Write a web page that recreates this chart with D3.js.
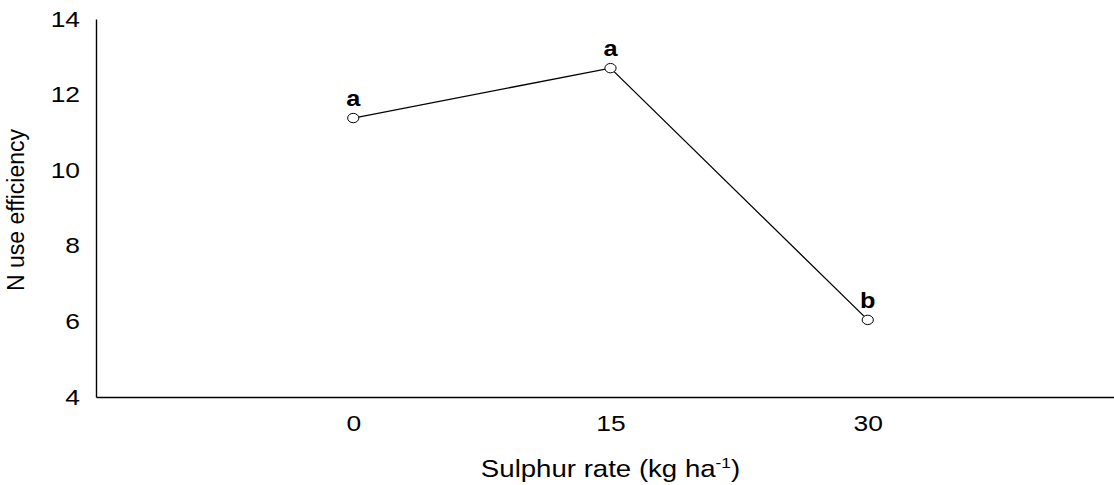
<!DOCTYPE html>
<html>
<head>
<meta charset="utf-8">
<script src="https://cdn.jsdelivr.net/npm/d3@7"></script>
<style>
  body { margin: 0; background: #fff; }
  svg { font-family: "Liberation Sans", Arial, sans-serif; }
</style>
</head>
<body>
<script>
// data
var rates = [0, 15, 30];
var efficiency = [11.38, 12.70, 6.04];
var letters = ["a", "a", "b"];
var yTicks = [4, 6, 8, 10, 12, 14];

// set the dimensions and margins of the graph
var margin = {top: 19, right: 0, bottom: 88, left: 96},
    width = 1114 - margin.left - margin.right,
    height = 485 - margin.top - margin.bottom;

// text in the original is drawn a little wider than normal
var stretch = 1.2;

// set the ranges
var x = d3.scaleLinear().domain([-15, 45]).range([0, 1029]);
var y = d3.scaleLinear().domain([4, 14]).range([height, 0]);

var svg = d3.select('body')
            .append('svg')
            .attr('width', 1114)
            .attr('height', 485)
            .append("g")
            .attr("transform", "translate(" + margin.left + "," + margin.top + ")");

// x axis
var xAxis = svg.append("g")
    .attr("transform", "translate(0," + height + ")")
    .call(d3.axisBottom(x).tickValues(rates).tickSize(0).tickPadding(18));
xAxis.select(".domain").attr("stroke", "#000").attr("stroke-width", 1.4);
xAxis.selectAll("text")
    .style("font-size", "22px")
    .style("font-family", "'Liberation Sans', Arial, sans-serif")
    .attr("fill", "#000")
    .attr("transform", "scale(" + stretch + ",1)");

// y axis
var yAxis = svg.append("g")
    .call(d3.axisLeft(y).tickValues(yTicks).tickSize(0));
yAxis.select(".domain").attr("stroke", "#000").attr("stroke-width", 1.4);
yAxis.selectAll("text")
    .style("font-size", "22px")
    .style("font-family", "'Liberation Sans', Arial, sans-serif")
    .attr("fill", "#000")
    .attr("x", -16 / stretch)
    .attr("transform", "scale(" + stretch + ",1)");

// line
var valueline = d3.line()
    .x(function(d, i){ return x(rates[i]); })
    .y(function(d){ return y(d); });

svg.append("path")
    .datum(efficiency)
    .attr("d", valueline)
    .attr("fill", "none")
    .attr("stroke", "#000")
    .attr("stroke-width", 1.3);

// points
svg.selectAll('.pt')
    .data(efficiency)
    .enter()
    .append('ellipse')
    .attr('cx', function(d, i){ return x(rates[i]); })
    .attr('cy', function(d){ return y(d); })
    .attr('rx', 5.6)
    .attr('ry', 4.7)
    .attr('fill', '#fff')
    .attr('stroke', '#000')
    .attr('stroke-width', 1);

// letters
svg.selectAll('.label')
    .data(efficiency)
    .enter()
    .append('text')
    .text(function(d, i){ return letters[i]; })
    .attr('transform', function(d, i){
        return "translate(" + x(rates[i]) + "," + (y(d) - 12) + ") scale(1.15,1)";
    })
    .attr('text-anchor', 'middle')
    .style('font-size', '22px')
    .style('font-weight', 'bold');

// text label for the x axis
var xt = svg.append("text")
    .attr("transform", "translate(" + x(15) + "," + (height + 80) + ") scale(1.15,1)")
    .style("text-anchor", "middle")
    .style("font-size", "24px");
xt.append("tspan").text("Sulphur rate (kg ha");
xt.append("tspan").attr("dy", "-9").style("font-size", "15px").text("-1");
xt.append("tspan").attr("dy", "9").text(")");

// text label for y axis
svg.append("text")
    .attr("transform", "rotate(-90)")
    .attr("y", -72)
    .attr("x", -191)
    .style("text-anchor", "middle")
    .style("font-size", "23px")
    .text("N use efficiency");
</script>
</body>
</html>
